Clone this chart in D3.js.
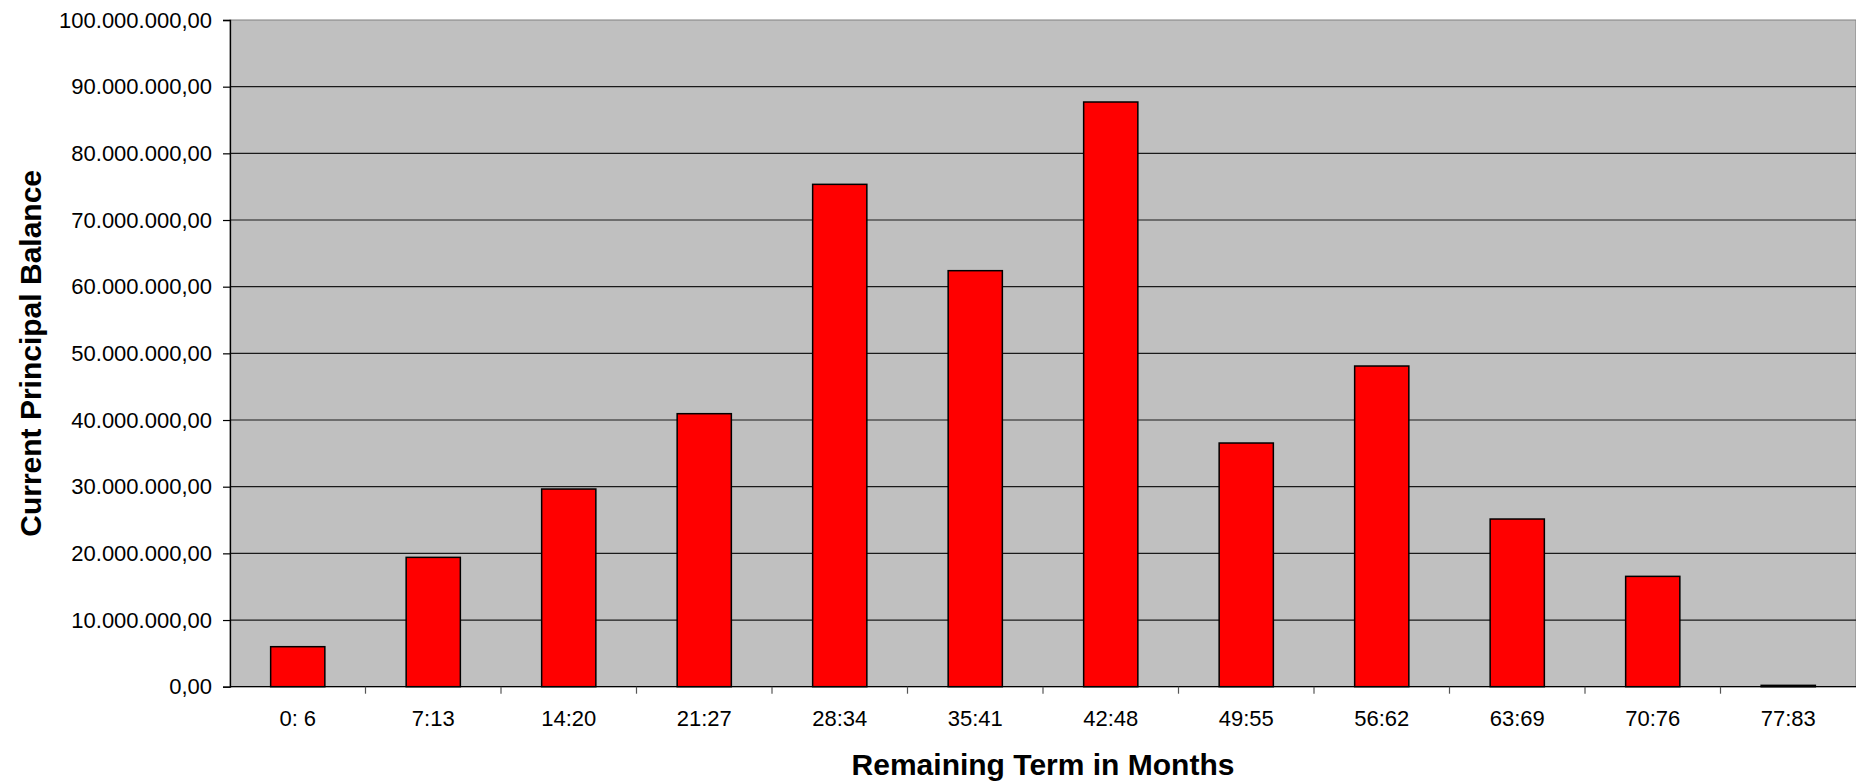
<!DOCTYPE html>
<html>
<head>
<meta charset="utf-8">
<script src="https://cdn.jsdelivr.net/npm/d3@7"></script>
<style>
  html, body { margin: 0; padding: 0; background: #fff; }
  svg { display: block; }
  text { font-family: "Liberation Sans", Arial, sans-serif; fill: #000; }
</style>
</head>
<body>
<svg id="chart" width="1856" height="781"></svg>
<script>
const categories = ["0: 6", "7:13", "14:20", "21:27", "28:34", "35:41", "42:48", "49:55", "56:62", "63:69", "70:76", "77:83"];
const balances = [6000000, 19400000, 29650000, 40950000, 75350000, 62400000, 87700000, 36550000, 48100000, 25150000, 16550000, 200000];
const yTicks = [0, 10000000, 20000000, 30000000, 40000000, 50000000, 60000000, 70000000, 80000000, 90000000, 100000000];
const xTitle = "Remaining Term in Months";
const yTitle = "Current Principal Balance";

(function () {
const svg = d3.select("#chart");
const pLeft = 230, pRight = 1856, pTop = 20, pBottom = 686.7;

const x = d3.scaleBand().domain(categories).range([pLeft, pRight]).paddingInner(0.6).paddingOuter(0.3);
const y = d3.scaleLinear().domain([0, 100000000]).range([pBottom, pTop]);

const loc = d3.formatLocale({ decimal: ",", thousands: ".", grouping: [3], currency: ["", ""] });
const fmt = loc.format(",.2f");

// plot background
svg.append("rect").attr("x", pLeft).attr("y", pTop).attr("width", pRight - pLeft).attr("height", pBottom - pTop)
  .attr("fill", "#c0c0c0").attr("stroke", "#808080").attr("stroke-width", 1);

// gridlines
svg.append("g").selectAll("line").data(yTicks.filter(v => v > 0 && v < 100000000)).join("line")
  .attr("x1", pLeft).attr("x2", pRight)
  .attr("y1", d => y(d)).attr("y2", d => y(d))
  .attr("stroke", "#1a1a1a").attr("stroke-width", 1.2);

// bars
svg.append("g").selectAll("rect").data(categories).join("rect")
  .attr("x", d => x(d))
  .attr("y", (d, i) => y(balances[i]))
  .attr("width", x.bandwidth())
  .attr("height", (d, i) => pBottom - y(balances[i]))
  .attr("fill", "#ff0000").attr("stroke", "#000").attr("stroke-width", 1.5);

// y axis
const yAxis = d3.axisLeft(y).tickValues(yTicks).tickFormat(fmt).tickSize(7).tickPadding(11);
const gy = svg.append("g").attr("transform", `translate(${pLeft},0)`).call(yAxis);
gy.select(".domain").attr("stroke", "#000").attr("stroke-width", 1.3);
gy.selectAll(".tick line").attr("stroke", "#000").attr("stroke-width", 1.2);
gy.selectAll(".tick text").style("font-size", "22px").style("font-family", "Liberation Sans, Arial, sans-serif").attr("fill", "#000");

// x axis
const boundaries = d3.range(categories.length + 1).map(i => pLeft + x.step() * i);
const gx = svg.append("g");
gx.append("line").attr("x1", pLeft).attr("x2", pRight).attr("y1", pBottom).attr("y2", pBottom)
  .attr("stroke", "#000").attr("stroke-width", 1.3);
gx.selectAll("line.tk").data(boundaries.slice(1, -1)).join("line").attr("class", "tk")
  .attr("x1", d => d).attr("x2", d => d).attr("y1", pBottom).attr("y2", pBottom + 7)
  .attr("stroke", "#555").attr("stroke-width", 1.2);
gx.selectAll("text").data(categories).join("text")
  .attr("x", d => x(d) + x.bandwidth() / 2)
  .attr("y", 726)
  .attr("text-anchor", "middle")
  .style("font-size", "22px")
  .text(d => d);

// titles
svg.append("text").attr("x", (pLeft + pRight) / 2).attr("y", 764).attr("text-anchor", "middle")
  .attr("dominant-baseline", "central")
  .style("font-size", "30px").style("font-weight", "bold").text(xTitle);
svg.append("text").attr("transform", `translate(30,${(pTop + pBottom) / 2}) rotate(-90)`)
  .attr("text-anchor", "middle").attr("dominant-baseline", "central")
  .style("font-size", "30px").style("font-weight", "bold").text(yTitle);
})();
</script>
</body>
</html>
